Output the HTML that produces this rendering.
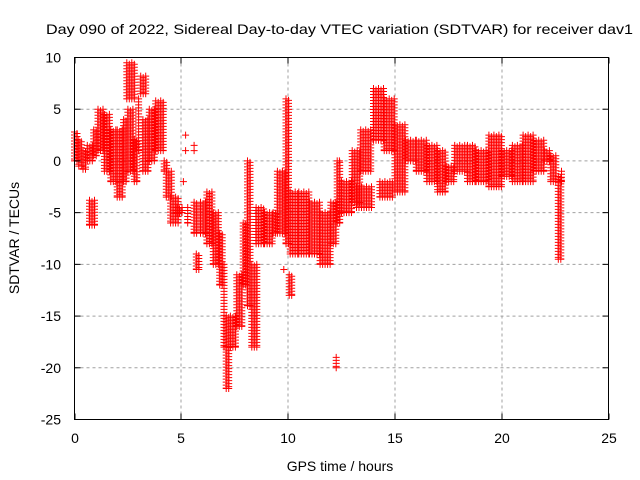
<!DOCTYPE html>
<html><head><meta charset="utf-8"><style>
body{margin:0;background:#fff}
svg{display:block}
text{font-family:"Liberation Sans",sans-serif;font-size:14px;fill:#000}
</style></head><body>
<svg id="chart" width="640" height="480" viewBox="0 0 640 480">
<text x="46" y="34" textLength="587" lengthAdjust="spacingAndGlyphs">Day 090 of 2022, Sidereal Day-to-day VTEC variation (SDTVAR) for receiver dav1</text>
<text x="340" y="471" text-anchor="middle">GPS time / hours</text>
<text transform="translate(19,238) rotate(-90)" text-anchor="middle">SDTVAR / TECUs</text>
<g id="grid"></g>
<g id="marks"></g>
<rect x="74.5" y="57.5" width="534" height="362" fill="none" stroke="#000" stroke-width="1"/>
<g id="ticks"></g>
</svg>
<script>
const xTicks=[0,5,10,15,20,25];
const yTicks=[-25,-20,-15,-10,-5,0,5,10];
const segStart=[0,0.2,0.4,0.6,0.7,0.9,1.1,1.4,1.7,2.0,2.3,2.45,2.5,2.8,3.0,3.1,3.2,3.5,3.8,4.2,4.3,4.5,4.8,5.3,5.6,5.7,5.9,6.2,6.5,6.8,7.0,7.1,7.3,7.6,7.9,8.1,8.3,8.5,8.9,9.3,9.5,9.9,10.05,10.1,10.5,11.0,11.5,12.0,12.25,12.3,12.5,13.0,13.4,13.2,14.0,14.5,14.3,15.0,15.5,16.0,16.5,17.0,17.4,17.8,18.4,18.8,19.4,20.0,20.5,21.0,21.5,22.0,22.3,22.65,22.8];
const segEnd=[0.2,0.4,0.6,0.9,1.0,1.1,1.4,1.7,2.0,2.3,2.5,2.9,2.8,3.0,3.1,3.4,3.5,3.8,4.2,4.4,4.6,4.9,5.1,5.4,5.8,5.9,6.2,6.5,6.8,7.0,7.1,7.3,7.6,7.9,8.1,8.3,8.6,8.9,9.3,9.5,9.9,10.05,10.2,10.5,11.0,11.5,12.0,12.3,12.35,12.5,13.0,13.4,13.9,14.0,14.5,15.0,15.0,15.5,16.0,16.5,17.0,17.4,17.8,18.4,18.8,19.4,20.0,20.5,21.0,21.5,22.0,22.3,22.6,22.85,22.9];
const segLow=[0,-0.5,-0.8,0,-6.2,0.5,1,-1,-2,-3.5,-2,6,-1,-2,1,6.5,-1,0,1,-1,-3.5,-6,-5,-6,-7,-10.5,-7,-8,-10,-12,-18,-22,-18,-16,-12,-14,-18,-8,-8,-7,-7,-8,-13,-9,-9,-9,-10,-8,-20,-6,-5,-4,-1,-4.5,2,1,-3.5,-3,0,-1,-2,-3,-2,-1,-2,-2,-2.5,-1.5,-2,-2,-1,0,-2,-9.5,-2];
const segHigh=[2.8,2,1,1.5,-3.8,3,5,4.5,3,3,4,9.5,5,2,6,8.2,4,5,5.8,0,-1,-3.5,-4.5,-4.5,-4,-9,-4,-3,-5,-7,-10,-15,-15,-11,-6,0,-10,-4.5,-5,-5,-1,6,-11,-3,-3,-4,-5,-4,-19,0,-2,1,3,-2.5,7,6,-2,3.5,2,2,1.5,1,-0.5,1.5,1.5,1,2.5,1,1.5,2.5,2,1,0.5,-1.5,-1];
const outT=[5.2,5.2,5.1,5.6,5.6,9.8,12.4];
const outV=[2.5,1,-2,1.5,1,-10.5,0];
const x0=74.5,x1=608.5,y0=419.5,y1=57.5;
const xs=t=>x0+(t-0)/25*(x1-x0);
const ys=v=>y0-(v+25)/35*(y0-y1);
const NS='http://www.w3.org/2000/svg';
const grid=document.getElementById('grid'),ticks=document.getElementById('ticks'),marks=document.getElementById('marks');
function ln(p,a,b,c,d,st,dash){const l=document.createElementNS(NS,'line');l.setAttribute('x1',a);l.setAttribute('y1',b);l.setAttribute('x2',c);l.setAttribute('y2',d);l.setAttribute('stroke',st);if(dash)l.setAttribute('stroke-dasharray',dash);p.appendChild(l);return l;}
xTicks.forEach(t=>{const x=Math.round(xs(t))+0.5-0.5;
 if(t>0&&t<25){const g=ln(grid,x,y1,x,y0,'#a0a0a0','3,3');
 
 }
 const tk=ln(ticks,x,y0,x,y0-6,'#000');
 
 
 const tk2=ln(ticks,x,y1,x,y1+6,'#000');
 
 
 const tx=document.createElementNS(NS,'text');tx.setAttribute('x',x);tx.setAttribute('y',443);tx.setAttribute('text-anchor','middle');tx.textContent=t;
 
 
 ticks.appendChild(tx);});
yTicks.forEach(v=>{const y=ys(v);
 if(v>-25&&v<10){const g=ln(grid,x0,y,x1,y,'#a0a0a0','3,3');
 
 }
 const tk=ln(ticks,x0,y,x0+6,y,'#000');
 
 
 const tk2=ln(ticks,x1,y,x1-6,y,'#000');
 
 
 const tx=document.createElementNS(NS,'text');tx.setAttribute('x',61);tx.setAttribute('y',y+5);tx.setAttribute('text-anchor','end');tx.textContent=v;
 
 
 ticks.appendChild(tx);});
let d='';
function plus(x,y){d+='M'+(x-3.5).toFixed(1)+' '+y.toFixed(1)+'h7M'+x.toFixed(1)+' '+(y-3.5).toFixed(1)+'v7';}
for(let i=0;i<segStart.length;i++){
 const xa=xs(segStart[i]),xb=xs(segEnd[i]),ya=ys(segHigh[i]),yb=ys(segLow[i]);
 let col=0;
 for(let x=xa;x<=xb+0.01;x+=2.5,col++){
  const off=(col%2)*1.5;
  for(let y=ya+off;y<=yb;y+=3) plus(x,y);
  plus(x,yb);
 }
}
for(let i=0;i<outT.length;i++) plus(xs(outT[i]),ys(outV[i]));
const p=document.createElementNS(NS,'path');p.setAttribute('d',d);p.setAttribute('stroke','#ff0000');p.setAttribute('stroke-width','1');p.setAttribute('fill','none');


marks.appendChild(p);
</script>
</body></html>
